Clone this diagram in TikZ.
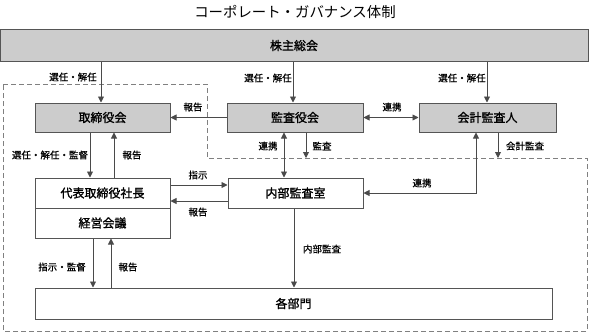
\documentclass[tikz,border=0pt]{standalone}
\usepackage{fontspec}
\setmainfont{Noto Sans CJK JP}
\newfontfamily\jpboxfont{Noto Sans CJK JP}[FakeBold=1.2]
\newfontfamily\jplblfont{Noto Sans CJK JP}[FakeBold=0.6]
\usetikzlibrary{arrows.meta,calc}
\definecolor{gfill}{HTML}{CCCCCC}
\definecolor{bline}{HTML}{555555}
\definecolor{aline}{HTML}{4A4A4A}
\definecolor{dline}{HTML}{808080}
\begin{document}
\begin{tikzpicture}[x=1pt,y=-1pt,
  box/.style={draw=bline, line width=1pt, inner sep=0pt, font=\jpboxfont\fontsize{12}{12}\selectfont},
  gbox/.style={box, fill=gfill},
  wbox/.style={box, fill=white},
  arr/.style={draw=aline, line width=0.9pt, -{Triangle[length=6pt,width=6pt]}},
  darr/.style={draw=aline, line width=0.9pt, {Triangle[length=6pt,width=6pt]}-{Triangle[length=6pt,width=6pt]}},
  lbl/.style={inner sep=0pt, font=\jplblfont\fontsize{9.5}{9.5}\selectfont},
  dashline/.style={draw=dline, line width=0.8pt, dash pattern=on 5pt off 3pt}
]
\useasboundingbox (0,0) rectangle (590,333);
% title
\node[inner sep=0pt, font=\fontsize{14.4}{14.4}\selectfont] (title) at (295,12) {コーポレート・ガバナンス体制};
% dashed region
\draw[dashline] (3,84) -- (207,84) -- (207,158) -- (587,158) -- (587,331) -- (3,331) -- cycle;
% boxes
\node[gbox, minimum width=588pt, minimum height=32pt] (kabu) at (294,45.5) {株主総会};
\node[gbox, minimum width=135pt, minimum height=29pt] (tori) at (102.5,117.5) {取締役会};
\node[gbox, minimum width=136pt, minimum height=29pt] (kansa) at (295,117.5) {監査役会};
\node[gbox, minimum width=137pt, minimum height=29pt] (kaikei) at (487.5,117.5) {会計監査人};
\node[wbox, minimum width=135pt, minimum height=30pt] (daihyo) at (102.5,193) {代表取締役社長};
\node[wbox, minimum width=135pt, minimum height=30pt] (keiei) at (102.5,223) {経営会議};
\node[wbox, minimum width=135pt, minimum height=30pt] (naibu) at (295.5,193) {内部監査室};
\node[wbox, minimum width=517pt, minimum height=31pt] (kakubu) at (293.5,303.5) {各部門};
% helper coordinates
\coordinate (x101) at (101,0);
\coordinate (x293) at (293,0);
\coordinate (x487) at (487,0);
\coordinate (x90) at (90,0);
\coordinate (x114) at (114,0);
\coordinate (x93) at (93,0);
\coordinate (x111) at (111,0);
\coordinate (x284) at (284,0);
\coordinate (x294) at (294,0);
\coordinate (x476) at (476,0);
\coordinate (y185) at (0,185);
\coordinate (y201) at (0,201);
\coordinate (kansaEnd) at (306,158);
\coordinate (kaikeiEnd) at (498,158);
% connectors
\draw[arr] (kabu.south -| x101) -- (tori.north -| x101);
\draw[arr] (kabu.south -| x293) -- (kansa.north -| x293);
\draw[arr] (kabu.south -| x487) -- (kaikei.north -| x487);
\draw[arr] (kansa.west) -- (tori.east);
\draw[darr] (kansa.east) -- (kaikei.west);
\draw[darr] (kansa.south -| x284) -- (naibu.north -| x284);
\draw[arr] (kansa.south -| kansaEnd) -- (kansaEnd);
\draw[arr] (kaikei.south -| kaikeiEnd) -- (kaikeiEnd);
\draw[darr] (naibu.east) -| (kaikei.south -| x476);
\draw[arr] (tori.south -| x90) -- (daihyo.north -| x90);
\draw[arr] (daihyo.north -| x114) -- (tori.south -| x114);
\draw[arr] (daihyo.east |- y185) -- (naibu.west |- y185);
\draw[arr] (naibu.west |- y201) -- (daihyo.east |- y201);
\draw[arr] (keiei.south -| x93) -- (kakubu.north -| x93);
\draw[arr] (kakubu.north -| x111) -- (keiei.south -| x111);
\draw[arr] (naibu.south -| x294) -- (kakubu.north -| x294);
% labels
\node[lbl] (l1) at (73,77) {選任・解任};
\node[lbl] (l2) at (268,78) {選任・解任};
\node[lbl] (l3) at (462,78) {選任・解任};
\node[lbl] (l4) at (193,107) {報告};
\node[lbl] (l5) at (392,107) {連携};
\node[lbl] (l6) at (268,146) {連携};
\node[lbl] (l7) at (322,146) {監査};
\node[lbl] (l8) at (525,146) {会計監査};
\node[lbl] (l9) at (50,155) {選任・解任・監督};
\node[lbl] (l10) at (132,155) {報告};
\node[lbl] (l11) at (198,175) {指示};
\node[lbl] (l12) at (198,212) {報告};
\node[lbl] (l13) at (422,183) {連携};
\node[lbl] (l14) at (322,249) {内部監査};
\node[lbl] (l15) at (62,267) {指示・監督};
\node[lbl] (l16) at (128,267) {報告};
\end{tikzpicture}
\end{document}
